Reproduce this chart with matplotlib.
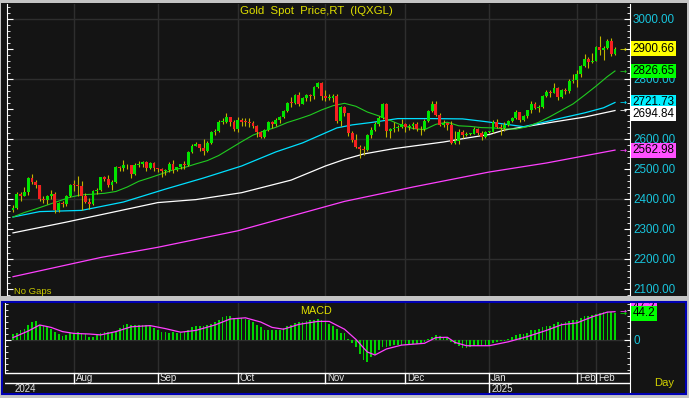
import matplotlib
matplotlib.use("Agg")
import matplotlib.pyplot as plt
from matplotlib.patches import Rectangle
from matplotlib.transforms import blended_transform_factory
from matplotlib.ticker import MultipleLocator, FormatStrFormatter
import numpy as np
import pandas as pd

plt.rcParams['font.family'] = ['Liberation Sans', 'DejaVu Sans']

# ---- data (daily bars) ----
dates = pd.bdate_range('2024-07-10', '2025-02-17')

opens = [2364, 2371, 2415, 2411, 2422, 2469, 2458, 2445, 2400, 2396,
         2409, 2418, 2364, 2387, 2384, 2410, 2447, 2446, 2443, 2409,
         2390, 2382, 2427, 2431, 2472, 2465, 2447, 2456, 2507, 2503,
         2514, 2512, 2484, 2512, 2518, 2524, 2504, 2520, 2503, 2500,
         2493, 2495, 2516, 2497, 2506, 2516, 2512, 2558, 2578, 2582,
         2569, 2559, 2587, 2622, 2628, 2657, 2657, 2672, 2658, 2634,
         2662, 2657, 2656, 2653, 2644, 2622, 2608, 2630, 2657, 2649,
         2662, 2674, 2693, 2721, 2720, 2748, 2717, 2736, 2747, 2743,
         2774, 2788, 2743, 2736, 2736, 2742, 2659, 2706, 2685, 2619,
         2598, 2573, 2565, 2562, 2612, 2631, 2650, 2670, 2715, 2625,
         2633, 2638, 2640, 2650, 2640, 2643, 2650, 2632, 2633, 2660,
         2694, 2718, 2680, 2648, 2652, 2646, 2586, 2593, 2622, 2612,
         2617, 2618, 2634, 2621, 2606, 2624, 2624, 2657, 2640, 2637,
         2648, 2661, 2670, 2690, 2663, 2677, 2697, 2715, 2702, 2708,
         2744, 2755, 2754, 2770, 2740, 2763, 2760, 2794, 2798, 2815,
         2842, 2867, 2856, 2861, 2908, 2898, 2904, 2928, 2882]
highs = [2379, 2424, 2424, 2440, 2472, 2483, 2462, 2446, 2410, 2412,
         2431, 2422, 2390, 2394, 2413, 2451, 2462, 2477, 2461, 2420,
         2402, 2430, 2437, 2474, 2477, 2479, 2463, 2509, 2509, 2531,
         2518, 2513, 2519, 2525, 2528, 2525, 2524, 2523, 2504, 2503,
         2500, 2524, 2529, 2508, 2518, 2525, 2560, 2582, 2590, 2583,
         2600, 2594, 2625, 2632, 2664, 2670, 2686, 2674, 2664, 2674,
         2669, 2669, 2671, 2660, 2645, 2625, 2634, 2661, 2660, 2669,
         2675, 2696, 2722, 2740, 2749, 2758, 2741, 2749, 2749, 2776,
         2790, 2790, 2762, 2750, 2750, 2749, 2711, 2710, 2686, 2626,
         2618, 2580, 2578, 2616, 2639, 2656, 2675, 2721, 2721, 2638,
         2658, 2647, 2666, 2652, 2650, 2657, 2655, 2644, 2667, 2697,
         2726, 2726, 2685, 2662, 2653, 2660, 2628, 2633, 2630, 2622,
         2620, 2639, 2637, 2626, 2627, 2627, 2662, 2665, 2650, 2657,
         2664, 2674, 2697, 2691, 2679, 2698, 2725, 2724, 2713, 2745,
         2763, 2763, 2786, 2772, 2765, 2770, 2800, 2817, 2830, 2845,
         2882, 2873, 2886, 2911, 2942, 2910, 2933, 2935, 2906]
lows = [2357, 2367, 2392, 2409, 2413, 2450, 2437, 2393, 2385, 2384,
        2399, 2353, 2358, 2374, 2378, 2406, 2425, 2410, 2364, 2385,
        2367, 2380, 2416, 2425, 2459, 2441, 2431, 2454, 2493, 2492,
        2500, 2470, 2479, 2506, 2506, 2492, 2500, 2494, 2489, 2472,
        2479, 2490, 2485, 2492, 2500, 2500, 2510, 2554, 2576, 2561,
        2546, 2555, 2583, 2614, 2624, 2651, 2652, 2644, 2625, 2624,
        2644, 2642, 2640, 2635, 2605, 2604, 2603, 2626, 2636, 2642,
        2654, 2669, 2691, 2707, 2717, 2709, 2715, 2728, 2727, 2733,
        2769, 2730, 2727, 2730, 2724, 2652, 2644, 2677, 2610, 2590,
        2570, 2537, 2546, 2560, 2603, 2625, 2643, 2668, 2605, 2603,
        2624, 2627, 2636, 2622, 2630, 2633, 2625, 2614, 2627, 2657,
        2690, 2677, 2643, 2641, 2630, 2583, 2583, 2582, 2603, 2609,
        2613, 2615, 2614, 2596, 2603, 2621, 2621, 2635, 2614, 2625,
        2643, 2655, 2665, 2656, 2660, 2670, 2688, 2700, 2690, 2702,
        2741, 2741, 2753, 2730, 2736, 2751, 2754, 2786, 2772, 2807,
        2841, 2835, 2853, 2859, 2880, 2864, 2900, 2876, 2881]
closes = [2371, 2415, 2411, 2422, 2469, 2458, 2445, 2400, 2396, 2409,
          2418, 2364, 2387, 2384, 2410, 2447, 2446, 2443, 2409, 2390,
          2382, 2427, 2431, 2472, 2465, 2447, 2456, 2507, 2503, 2514,
          2512, 2484, 2512, 2518, 2524, 2504, 2520, 2503, 2500, 2493,
          2495, 2516, 2497, 2506, 2516, 2512, 2558, 2578, 2582, 2569,
          2559, 2587, 2622, 2628, 2657, 2657, 2672, 2658, 2634, 2662,
          2657, 2656, 2653, 2644, 2622, 2608, 2630, 2657, 2649, 2662,
          2674, 2693, 2721, 2720, 2748, 2717, 2736, 2747, 2743, 2774,
          2788, 2743, 2736, 2736, 2742, 2659, 2706, 2685, 2619, 2598,
          2573, 2565, 2562, 2612, 2631, 2650, 2670, 2715, 2625, 2633,
          2638, 2640, 2650, 2640, 2643, 2650, 2632, 2633, 2660, 2694,
          2718, 2680, 2648, 2652, 2646, 2586, 2593, 2622, 2612, 2617,
          2618, 2634, 2621, 2606, 2624, 2624, 2657, 2640, 2637, 2648,
          2661, 2670, 2690, 2663, 2677, 2697, 2715, 2702, 2708, 2744,
          2755, 2754, 2770, 2740, 2763, 2760, 2794, 2798, 2815, 2842,
          2867, 2856, 2861, 2908, 2898, 2904, 2928, 2882, 2900.66]

# moving averages, sampled at bar positions
ma20_idx = list(range(0, 157, 3)) + [158]
ma20 = [2340, 2355, 2367, 2380, 2393, 2406, 2414, 2416, 2419, 2425,
        2440, 2459, 2471, 2484, 2497, 2505, 2517, 2528, 2545, 2568,
        2591, 2613, 2627, 2639, 2655, 2667, 2680, 2697, 2711, 2719,
        2709, 2690, 2677, 2662, 2646, 2635, 2631, 2649, 2656, 2644,
        2642, 2638, 2637, 2634, 2633, 2641, 2656, 2675, 2696, 2717,
        2746, 2776, 2808, 2826.65]
ma50_idx = [0, 7, 18, 29, 40, 50, 60, 69, 76, 85, 89, 94, 101, 110, 118,
            124, 130, 134, 139, 144, 150, 155, 158]
ma50 = [2340, 2358, 2362, 2390, 2433, 2470, 2510, 2557, 2587, 2637, 2647,
        2655, 2668, 2668, 2667, 2658, 2648, 2641, 2655, 2670, 2687, 2704,
        2721.73]
ma100_idx = [0, 14, 38, 48, 60, 73, 82, 87, 92, 100, 113, 119, 125, 129,
             134, 142, 150, 158]
ma100 = [2287, 2323, 2388, 2398, 2421, 2463, 2510, 2532, 2550, 2568, 2590,
         2603, 2615, 2630, 2640, 2657, 2673, 2694.84]
ma200_idx = [0, 23, 38, 59, 87, 105, 125, 140, 158]
ma200 = [2141, 2205, 2239, 2294, 2392, 2440, 2490, 2520, 2562.98]

macd = [10, 12.5, 17, 18, 25.5, 29.5, 31, 25.5, 22.7, 21.5,
        18, 14, 10, 7, 8.5, 12.5, 11, 14, 12.5, 10,
        4.5, 5.7, 8.5, 11.3, 14, 14, 11, 14, 20, 25.5,
        27, 25.5, 25.5, 25.5, 25.5, 25.5, 24, 20, 17, 14,
        13, 12.5, 13.6, 11, 12.5, 14, 17, 21, 22.7, 24,
        22.7, 24.4, 27, 29.5, 34, 38, 39.7, 40.8, 36.8, 36.8,
        36.8, 35, 32.9, 29.5, 25.5, 21, 17, 15.9, 15.9, 17,
        17, 19.8, 22.7, 25.5, 28.3, 29.5, 29.5, 31, 32.9, 34,
        35, 32.9, 31, 27, 23.8, 18, 12.5, 11.3, 1, -5.7,
        -11.3, -22.7, -34, -36.8, -28.3, -23.8, -17, -11.3, -11.3, -10.2,
        -9, -9, -8.5, -8, -8, -6.8, -6.8, -5.7, -2.8, 1.1,
        5.7, 8.5, 7.4, 5.7, 2.8, -2.8, -6.8, -10.2, -12.5, -12.5,
        -11.3, -10.2, -10, -10, -9, -8.5, -4.5, -3.4, -2.3, -1.1,
        1.1, 4.5, 8.5, 9.6, 10.2, 12.5, 15.9, 17, 18, 21.5,
        23.8, 23.8, 27.2, 29.5, 28.3, 30.6, 31.2, 32.9, 32.9, 36.8,
        39.7, 40.8, 42.5, 44, 45.5, 46.5, 46.5, 47, 44.2]
signal_idx = [0, 4, 7, 10, 13, 16, 20, 23, 27, 31, 36, 40, 44, 48, 53, 57,
              61, 65, 68, 71, 75, 80, 83, 87, 90, 93, 95, 98, 102, 108, 111,
              114, 116, 119, 125, 130, 135, 140, 144, 148, 152, 156, 158]
signal = [4, 15, 25, 21, 14, 11, 10, 8.5, 14, 22, 24, 19, 13, 16, 25, 35,
          37, 30, 21, 18, 26, 31, 31, 18, 1, -20, -25, -15, -8.5, -5.5, 4,
          4.5, -4, -9.5, -9.5, -3, 5.7, 16, 25.5, 28.5, 38.5, 46.5, 47.2]

month_dates = ['2024-08-01', '2024-09-02', '2024-10-01', '2024-11-01',
               '2024-12-02', '2025-01-01', '2025-02-03', '2025-02-10']
month_labels = ['Aug', 'Sep', 'Oct', 'Nov', 'Dec', 'Jan', 'Feb', 'Feb']

# ---- layout (pixels of the 689x398 picture) ----
W, H = 689, 398
X0, DX = 13.0, 3.81        # pixel of first bar, pixels per bar
Y3000, PPU = 19.0, 0.30    # pixel of 3000, pixels per price unit
MZERO, MPPU = 340.0, 0.60  # macd zero line pixel, pixels per unit

BG = '#141414'
GRID = '#2e2e2e'
UP, DOWN, WICK = '#00e400', '#f42020', '#c0b400'
C20, C50, C100, C200 = '#20cc20', '#00e0ff', '#ffffff', '#ff40ff'
LBL = '#18c4dc'
YEL = '#e0e000'
SEP = '#c4c4c4'


def box(x0, y0, x1, y1):
    return [x0 / W, 1 - y1 / H, (x1 - x0) / W, (y1 - y0) / H]


def xlim_for(x0, x1):
    return ((x0 - X0) / DX, (x1 - X0) / DX)


def frect(x0, y0, x1, y1, **kw):
    fig.add_artist(Rectangle((x0 / W, 1 - y1 / H), (x1 - x0) / W, (y1 - y0) / H,
                             transform=fig.transFigure, **kw))


fig = plt.figure(figsize=(W / 100, H / 100), dpi=100, facecolor=SEP)

frect(1, 3, 687, 296, fc=BG, ec='none', zorder=-5)
frect(2, 302, 686, 394, fc=BG, ec='none', zorder=-5)
# separator band and blue frame drawn over the panels
frect(0, 296, 689, 301, fc=SEP, ec='none', zorder=6)
frect(2, 302, 686, 394, fc='none', ec='#0000b4', lw=1.5, zorder=7)

idx = np.arange(len(closes))
o, h, l, c = map(np.array, (opens, highs, lows, closes))
month_idx = [dates.get_loc(pd.Timestamp(d)) for d in month_dates]

# ---- price panel ----
ax = fig.add_axes(box(7, 4, 630, 296))
ax.set_facecolor('none')
ax.set_xlim(*xlim_for(7, 630))
ax.set_ylim(3000 - (296 - Y3000) / PPU, 3000 + (Y3000 - 4) / PPU)

for yv in [2200, 2400, 2600, 2800, 3000]:
    ax.axhline(yv, color=GRID, lw=1, zorder=0)
for mi in month_idx:
    ax.axvline(mi, color=GRID, lw=1, zorder=0)

ax.plot(ma200_idx, ma200, color=C200, lw=0.9, zorder=2)
ax.plot(ma100_idx, ma100, color=C100, lw=0.9, zorder=2)
ax.plot(ma50_idx, ma50, color=C50, lw=0.9, zorder=2)
ax.plot(ma20_idx, ma20, color=C20, lw=0.8, zorder=2)

ax.vlines(idx, l, h, color=WICK, lw=0.8, zorder=3)
up = c >= o
lo = np.minimum(o, c)
ht = np.maximum(np.abs(c - o), 2.5)
ax.bar(idx[up], ht[up], bottom=lo[up], width=0.75, color=UP, lw=0, zorder=4)
ax.bar(idx[~up], ht[~up], bottom=lo[~up], width=0.75, color=DOWN, lw=0, zorder=4)

ax.set_xticks([])
ax.yaxis.set_major_locator(MultipleLocator(100))
ax.yaxis.set_minor_locator(MultipleLocator(20))
ax.yaxis.set_major_formatter(FormatStrFormatter('%.2f'))
ax.tick_params(axis='y', which='both', direction='in', left=True, right=True,
               labelleft=False, labelright=True, color='white',
               labelcolor=LBL, labelsize=8.4, pad=2.2)
ax.tick_params(axis='y', which='major', length=4.5)
ax.tick_params(axis='y', which='minor', length=2.2)
for s in ['top', 'bottom']:
    ax.spines[s].set_visible(False)
for s in ['left', 'right']:
    ax.spines[s].set_color('white')

tr = blended_transform_factory(fig.transFigure, ax.transData)
last = [(closes[-1], closes[-1], '#ffff00', YEL),
        (ma20[-1], ma20[-1], '#00ff00', C20),
        (ma50[-1], ma50[-1], '#00f0ff', C50),
        (ma100[-1], ma100[-1] - 10, '#ffffff', C100),
        (ma200[-1], ma200[-1], '#ff50ff', C200)]
for val, ypos, fc, ac in last:
    ax.text(632.5 / W, ypos, f'{val:.2f}', transform=tr, ha='left', va='center',
            fontsize=8.4, color='black', clip_on=False, zorder=7,
            bbox=dict(boxstyle='square,pad=0.12', fc=fc, ec='none'))
    ax.text(623 / W, val, '→', transform=tr, ha='center', va='center',
            fontsize=6, color=ac, family='DejaVu Sans', clip_on=False)

fig.text(240 / W, 1 - 11.5 / H, 'Gold  Spot  Price,RT  (IQXGL)', ha='left',
         va='center', fontsize=8.2, color=YEL)
fig.text(14 / W, 1 - 291.5 / H, 'No Gaps', ha='left', va='center',
         fontsize=6.8, color='#c8c800')

# ---- MACD panel ----
ax2 = fig.add_axes(box(5, 303, 630, 372))
ax2.set_facecolor('none')
ax2.set_xlim(*xlim_for(5, 630))
ax2.set_ylim(-(372 - MZERO) / MPPU, (MZERO - 303) / MPPU)
ax2.axhline(0, color=GRID, lw=1, zorder=0)
for mi in month_idx:
    ax2.axvline(mi, color=GRID, lw=1, zorder=0)
ax2.bar(idx, macd, width=0.45, color='#00d400', lw=0, zorder=2)
ax2.plot(signal_idx, signal, color=C200, lw=0.9, zorder=3)
ax2.set_xticks([])
ax2.set_yticks([0])
ax2.set_yticklabels(['0'])
ax2.yaxis.set_minor_locator(MultipleLocator(10))
ax2.tick_params(axis='y', which='both', direction='in', left=True, right=True,
                labelleft=False, labelright=True, color='white',
                labelcolor=LBL, labelsize=8.4, pad=2.2)
ax2.tick_params(axis='y', which='major', length=4.5)
ax2.tick_params(axis='y', which='minor', length=2.2)
for s in ['top', 'bottom']:
    ax2.spines[s].set_visible(False)
for s in ['left', 'right']:
    ax2.spines[s].set_color('white')
fig.text(300 / W, 1 - 311 / H, 'MACD', ha='left', va='center', fontsize=7.8,
         color=YEL)

tr2 = blended_transform_factory(fig.transFigure, ax2.transData)
ax2.text(632.5 / W, signal[-1] + 7, f'{signal[-1]:.1f}', transform=tr2,
         ha='left', va='center', fontsize=8.4, color='black', clip_on=False,
         zorder=5, bbox=dict(boxstyle='square,pad=0.12', fc='#ff50ff', ec='none'))
ax2.text(632.5 / W, macd[-1], f'{macd[-1]:.1f}', transform=tr2,
         ha='left', va='center', fontsize=8.4, color='black', clip_on=False,
         zorder=6, bbox=dict(boxstyle='square,pad=0.12', fc='#00ff00', ec='none'))
ax2.text(623 / W, signal[-1], '→', transform=tr2, ha='center', va='center',
         fontsize=6, color=C200, family='DejaVu Sans', clip_on=False)
ax2.text(623 / W, macd[-1], '→', transform=tr2, ha='center', va='center',
         fontsize=6, color='#00e000', family='DejaVu Sans', clip_on=False)

# ---- date axis ----
ax3 = fig.add_axes(box(5, 372, 630, 394))
ax3.set_facecolor('none')
ax3.set_xlim(*xlim_for(5, 630))
ax3.set_ylim(22, 0)
ax3.axhline(0.5, color='white', lw=1)
ax3.axhline(11, color='white', lw=1)
for mi, lab in zip(month_idx, month_labels):
    ax3.plot([mi, mi], [0.5, 11], color='white', lw=1)
    ax3.text(mi + 2 / DX, 6.3, lab, ha='left', va='center', fontsize=7,
             color='#e4e4e4')
jan = month_idx[month_labels.index('Jan')]
ax3.plot([jan, jan], [11, 22], color='white', lw=1)
ax3.text(jan + 2 / DX, 17, '2025', ha='left', va='center', fontsize=7,
         color='#e4e4e4')
ax3.text(0.3, 17, '2024', ha='left', va='center', fontsize=7,
         color='#e4e4e4')
ax3.set_xticks([])
ax3.set_yticks([])
for s in ['top', 'bottom', 'left']:
    ax3.spines[s].set_visible(False)
ax3.spines['right'].set_color('white')

fig.text(654 / W, 1 - 383 / H, 'Day', ha='left', va='center', fontsize=8.1,
         color='#d0d000')

fig.savefig('out.png', dpi=100, facecolor=fig.get_facecolor())
